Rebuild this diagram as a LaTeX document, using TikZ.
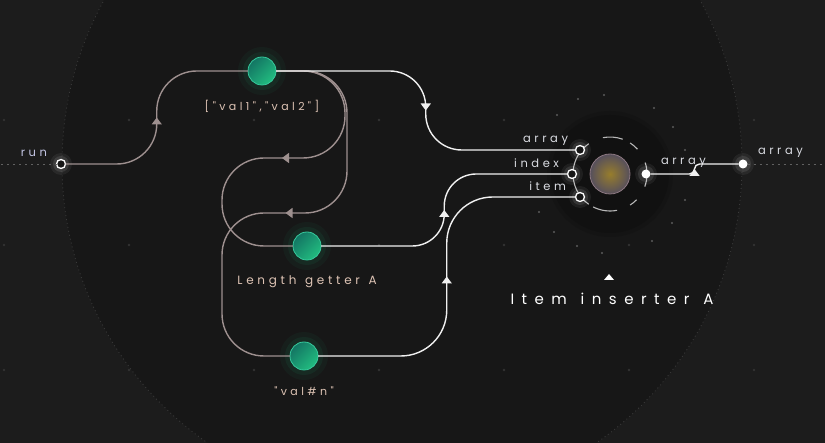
\documentclass[tikz,border=0pt]{standalone}
\usepackage{fontspec}
\setmainfont{Poppins}
\newfontfamily\tagfont[LetterSpace=31, WordSpace=1.25]{Poppins}
\newfontfamily\titlefont[LetterSpace=50, WordSpace=1.2]{Poppins}
\usetikzlibrary{arrows.meta,decorations.markings,calc,positioning}

\definecolor{bgout}{HTML}{1C1C1C}
\definecolor{bgin}{HTML}{171717}
\definecolor{ringdot}{HTML}{3A3A3A}
\definecolor{griddot}{HTML}{333333}
\definecolor{wiregrey}{HTML}{9E908F}
\definecolor{wirewhite}{HTML}{F0F0F0}
\definecolor{greendark}{HTML}{137563}
\definecolor{greenlight}{HTML}{22BD80}
\definecolor{greenrim}{HTML}{36C99C}
\definecolor{discol}{HTML}{111111}
\definecolor{ballgold}{HTML}{977D2C}
\definecolor{ballgrey}{HTML}{564F5C}
\definecolor{ballrim}{HTML}{8C7880}
\definecolor{ringcol}{HTML}{B8B8B8}
\definecolor{peach}{HTML}{DDC3B4}
\definecolor{portlbl}{HTML}{DADCE2}

\begin{document}
\begin{tikzpicture}[x=1pt, y=-1pt,
    every node/.style={inner sep=0pt, outer sep=0pt},
    wire/.style={line width=1.4pt, rounded corners=#1},
    wire/.default=40pt,
    tipmid/.style={postaction={decorate}, decoration={markings,
        mark=at position #1 with {\arrow{Triangle[width=10pt,length=7pt]}}}},
    tipmid/.default=0.5,
    valnode/.style={circle, minimum size=28pt, draw=greenrim, line width=0.8pt,
        top color=greendark, bottom color=greenlight, shading angle=45},
    inport/.style={circle, minimum size=9pt, draw=white, line width=1.3pt, fill=bgin},
    outport/.style={circle, minimum size=9pt, fill=white},
    porttag/.style={font=\tagfont\fontsize{11.5}{13}\selectfont, text=portlbl},
    valtag/.style={font=\tagfont\fontsize{11}{13}\selectfont, text=peach},
    dotline/.style={draw=ringdot!80!white, line width=0.8pt, dash pattern=on 2pt off 4pt}
  ]
  \useasboundingbox (0,0) rectangle (825,443);
  \fill[bgout] (0,0) rectangle (825,443);

  % Backdrop
  \fill[bgin] (402,164) circle (340);
  \draw[ringdot, line width=0.8pt, dash pattern=on 1pt off 3pt] (402,164) circle (340);
  \foreach \x in {4,129,...,754}
    \foreach \y in {-5,120,245,370}
      \fill[griddot] (\x,\y) circle (1.3);

  % Item inserter backdrop
  \coordinate (cgad) at (610,174);
  \fill[discol!50!bgin] (cgad) circle (63);
  \fill[discol] (cgad) circle (59);
  \foreach \p in {(578,99),(604,95),(654,108),(673,127),(685,150),(557,115),
                  (685,200),(672,223),(652,241),(602,253),(577,246),(554,232),(539,212)}
    \fill[griddot!80!white] \p circle (1.2);
  \foreach \a/\b in {-101/-70, -57/-42, -18/20, 44/57, 79/117, 125/235}
    \draw[ringcol, line width=1.1pt] ($(cgad)+(\a:37)$) arc[start angle=\a, end angle=\b, radius=37];

  % Glows
  \coordinate (cval) at (262,71);
  \coordinate (clen) at (307,246);
  \coordinate (cvn) at (304,356);
  \foreach \c in {cval, clen, cvn} {
    \fill[greenlight, opacity=0.05] (\c) circle (24);
    \fill[greenlight, opacity=0.08] (\c) circle (19);
  }
  \foreach \c in {(61,164),(580,150),(572,174),(580,197),(646,174),(743,164)} {
    \fill[white, opacity=0.06] \c circle (11);
    \fill[white, opacity=0.10] \c circle (8);
  }

  % Nodes
  \node[valnode] (val) at (cval) {};
  \node[valnode] (len) at (clen) {};
  \node[valnode] (vn) at (cvn) {};
  \node[valtag] at ([yshift=-35pt]val) {["val1","val2"]};
  \node[valtag, font=\tagfont\fontsize{12}{14}\selectfont] at ([yshift=-36pt]len) {Length getter A};
  \node[valtag] at ([yshift=-35pt]vn) {"val\#n"};

  \node[circle, minimum size=40pt, draw=ballrim, line width=0.8pt,
        inner color=ballgold, outer color=ballgrey] (ball) at (cgad) {};

  % Ports
  \node[inport] (run) at (61,164) {};
  \node[inport] (inarr) at (580,150) {};
  \node[inport] (inidx) at (572,174) {};
  \node[inport] (initem) at (580,197) {};
  \node[outport] (outarr) at (646,174) {};
  \node[outport] (res) at (743,164) {};
  \coordinate (leftedge) at (0,164);
  \coordinate (rightedge) at (825,164);

  \node[porttag, text=portlbl!90!blue, anchor=east] at ([shift={(-14pt,11pt)}]run) {run};
  \node[porttag, anchor=east] at ([shift={(-12pt,9pt)}]inarr) {array};
  \node[porttag, anchor=east] at ([shift={(-13pt,11pt)}]inidx) {index};
  \node[porttag, anchor=east] at ([shift={(-14pt,11pt)}]initem) {item};
  \node[porttag, anchor=west] at ([shift={(15pt,11pt)}]outarr) {array};
  \node[porttag, anchor=west] at ([shift={(15pt,11pt)}]res) {array};

  \node[font=\titlefont\fontsize{15}{18}\selectfont, text=white] (title) at (612,299) {Item inserter A};
  \fill[white] (604,280) -- (614,280) -- (609,274) -- cycle;

  % Links
  \draw[dotline] (run) -- (leftedge);
  \draw[dotline] (res) -- (rightedge);

  \coordinate (m1) at ($(run.east)!.5!(val.west)$);
  \coordinate (m2) at ($(val.east)!.5!(inarr.west)$);
  \coordinate (m3) at ($(len.east)!.5!(inidx.west)$);
  \coordinate (m4) at ($(vn.east)!.5!(initem.west)$);
  \coordinate (m5) at ($(outarr.east)!.5!(res.west)$);

  \draw[wire=40pt, draw=wiregrey, tipmid] (run.east) -- (run.east -| m1) -- (val.west -| m1) -- (val.west);
  \draw[wire=42pt, draw=wiregrey, tipmid] (val.east) -| ++(69,87) -| ([xshift=-71pt]len.west) -- (len.west);
  \draw[wire=42pt, draw=wiregrey, tipmid] (val.east) -| ++(71,142) -| ([xshift=-68pt]vn.west) -- (vn.west);

  \draw[wire=36pt, draw=wirewhite, tipmid] (val.east) -- (val.east -| m2) -- (inarr.west -| m2) -- (inarr.west);
  \draw[wire=32pt, draw=wirewhite, tipmid] (len.east) -- (len.east -| m3) -- (inidx.west -| m3) -- (inidx.west);
  \draw[wire=46pt, draw=wirewhite, tipmid] (vn.east) -- (vn.east -| m4) -- (initem.west -| m4) -- (initem.west);
  \draw[wire=5pt, draw=wirewhite, tipmid] (outarr.east) -- (outarr.east -| m5) -- (res.west -| m5) -- (res.west);

\end{tikzpicture}
\end{document}
